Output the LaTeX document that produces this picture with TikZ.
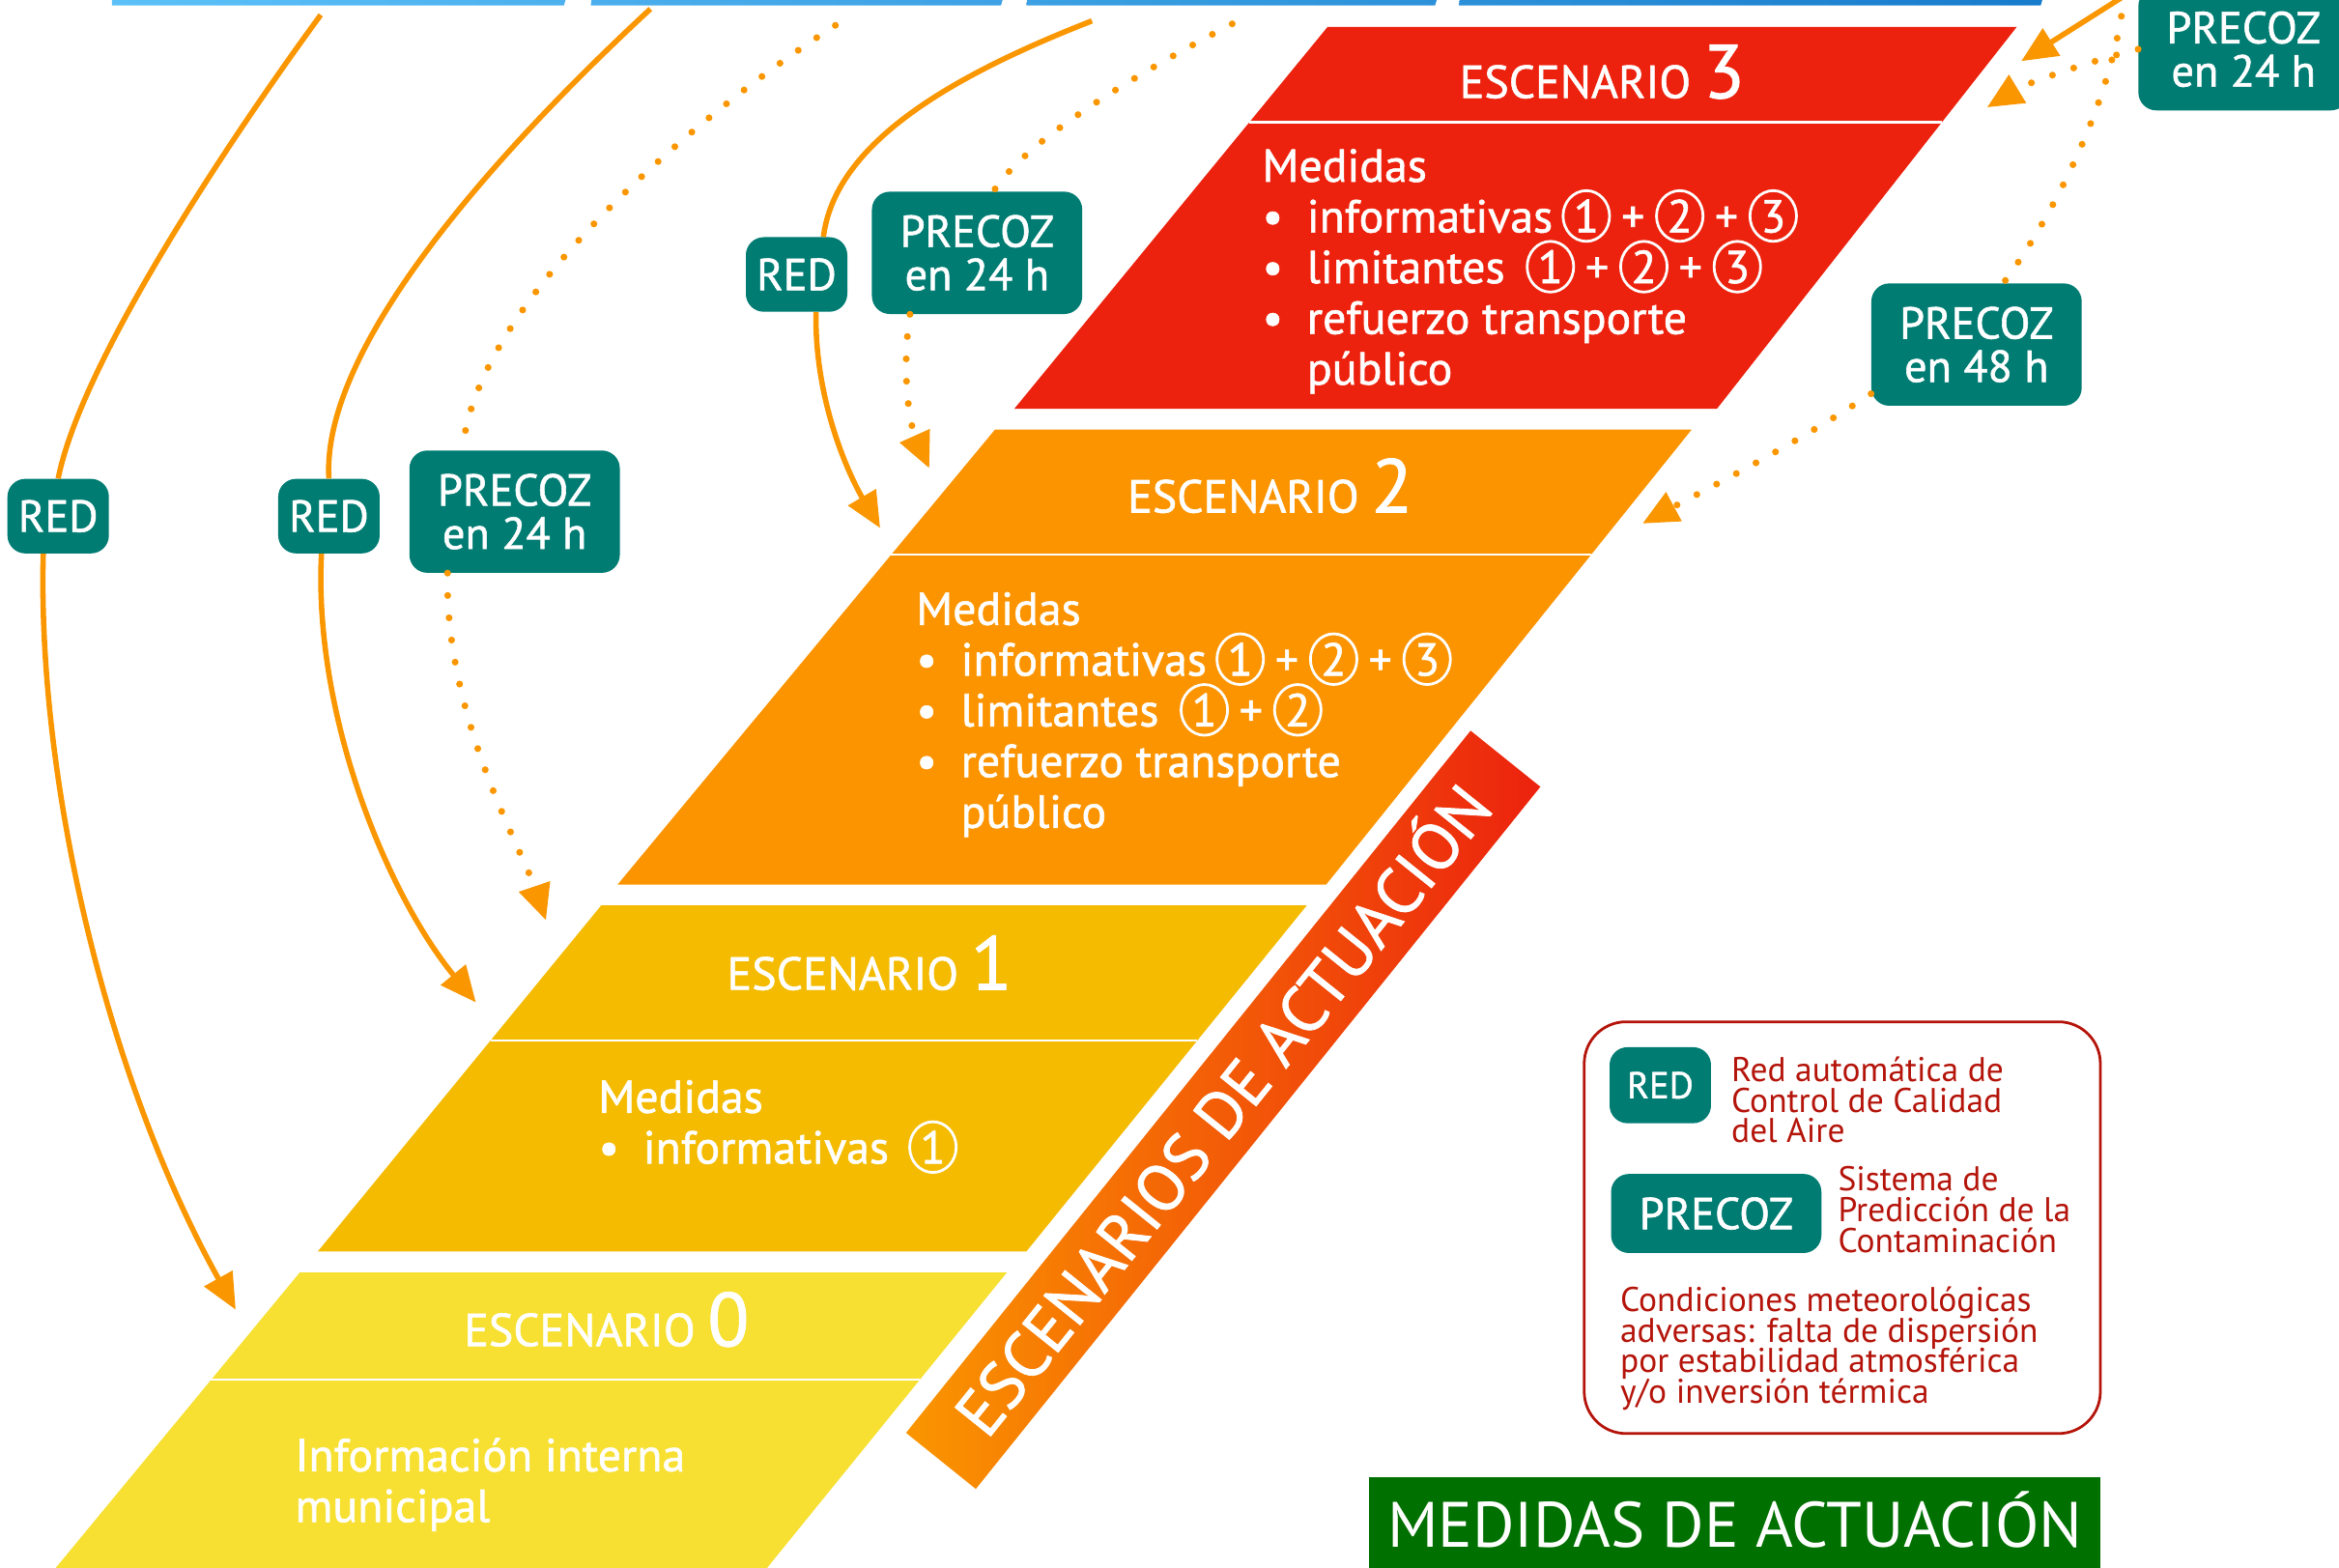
\documentclass[tikz,border=0pt]{standalone}
\usepackage{fontspec}
\setmainfont{PT Sans}
\newfontfamily\medio{PT Sans}[FakeBold=1.2]
\usetikzlibrary{arrows.meta,calc}

\definecolor{rojoIII}{RGB}{236,34,14}
\definecolor{naranjaII}{RGB}{252,148,0}
\definecolor{ambarI}{RGB}{244,187,0}
\definecolor{amarillo}{RGB}{247,224,50}
\definecolor{verdeazul}{RGB}{0,124,115}
\definecolor{flechas}{RGB}{250,150,0}
\definecolor{rojoley}{RGB}{180,20,10}
\definecolor{verdeban}{RGB}{0,112,0}
\definecolor{azulA}{RGB}{92,192,248}
\definecolor{azulB}{RGB}{24,124,204}

\lineskiplimit=-30pt
\newcommand{\cnum}[1]{\rlap{\tikz[baseline=0pt]{\useasboundingbox (0pt,0pt) rectangle (33pt,1pt); \draw[white, line width=1.8pt] (16.5pt,11pt) ellipse (15.6pt and 17pt);}}\makebox[33pt]{#1}}
\newcommand{\mas}{\hspace{7pt}+\hspace{7pt}}
\newcommand{\bul}{\makebox[30pt][l]{\textbullet}}

\begin{document}
\begin{tikzpicture}[x=1pt,y=-1pt]
  \tikzstyle{caja}=[fill=verdeazul, rounded corners=12pt, text=white, align=center, inner sep=0pt, font=\medio\fontsize{30}{29}\selectfont]
  \tikzstyle{cajared}=[caja, minimum width=68pt, minimum height=50pt]
  \tikzstyle{cajaprecoz}=[caja, minimum width=141pt, minimum height=82pt]
  \tikzstyle{linea}=[draw=flechas, line width=3.6pt]
  \tikzstyle{puntos}=[draw=flechas, line width=4.6pt, line cap=round, dash pattern=on 0pt off 15pt]
  \tikzstyle{punta}=[-{Triangle[length=24pt,width=21pt]}]
  \tikzstyle{titulo}=[text=white, inner sep=0pt, font=\medio\fontsize{31}{31}\selectfont]
  \tikzstyle{texto}=[text=white, inner sep=0pt, align=left, font=\medio\fontsize{31}{34}\selectfont]
  \tikzstyle{leyenda}=[text=rojoley, inner sep=0pt, align=left, font=\fontsize{23}{20.5}\selectfont]

  \useasboundingbox (0,0) rectangle (1568,1051);
  \clip (0,0) rectangle (1568,1051);

  \shade[left color=azulA, right color=azulB!23!azulA] (75,-3) -- (380,-3) -- (378,3.7) -- (75,3.7) -- cycle;
  \shade[left color=azulB!25!azulA, right color=azulB!46!azulA] (397,-3) -- (673,-3) -- (671,3.7) -- (396,3.7) -- cycle;
  \shade[left color=azulB!47!azulA, right color=azulB!69!azulA] (689,-3) -- (964,-3) -- (962,3.7) -- (688,3.7) -- cycle;
  \shade[left color=azulB!70!azulA, right color=azulB] (979,-3) -- (1370,-3) -- (1368,3.7) -- (978,3.7) -- cycle;

  \coordinate (e3a) at (890,18);
  \coordinate (e3b) at (1352,18);
  \coordinate (e3c) at (1151,274);
  \coordinate (e3d) at (680,274);
  \coordinate (e2a) at (667,288);
  \coordinate (e2b) at (1134,288);
  \coordinate (e2c) at (889,593);
  \coordinate (e2d) at (414,593);
  \coordinate (e1a) at (403,607);
  \coordinate (e1b) at (876,607);
  \coordinate (e1c) at (688,839);
  \coordinate (e1d) at (213,839);
  \coordinate (e0a) at (201,853);
  \coordinate (e0b) at (675,853);
  \coordinate (e0c) at (507,1060);
  \coordinate (e0d) at (30,1060);

  \fill[rojoIII] (e3a) -- (e3b) -- (e3c) -- (e3d) -- cycle;
  \fill[naranjaII] (e2a) -- (e2b) -- (e2c) -- (e2d) -- cycle;
  \fill[ambarI] (e1a) -- (e1b) -- (e1c) -- (e1d) -- cycle;
  \fill[amarillo] (e0a) -- (e0b) -- (e0c) -- (e0d) -- cycle;
  \draw[white, line width=1.5pt] ($(e3a)!0.25!(e3d)$) -- ($(e3b)!0.25!(e3c)$);
  \draw[white, line width=1.5pt] ($(e2a)!0.275!(e2d)$) -- ($(e2b)!0.275!(e2c)$);
  \draw[white, line width=1.5pt] ($(e1a)!0.39!(e1d)$) -- ($(e1b)!0.39!(e1c)$);
  \draw[white, line width=1.5pt] ($(e0a)!0.348!(e0d)$) -- ($(e0b)!0.348!(e0c)$);

  \begin{scope}[shift={(820,744)}, rotate=51.2]
    \shade[left color=flechas, right color=rojoIII] (-302,-30) rectangle (302,30);
  \end{scope}
  \node[rotate=51.2, anchor=base, text=white, inner sep=0pt, font=\medio\fontsize{44}{44}\selectfont] (actuacion) at (832,754) {ESCENARIOS DE ACTUACIÓN};

  \node[titulo, anchor=base] (esc3) at (1074,65.7) {ESCENARIO {\fontsize{51}{51}\selectfont 3}};
  \node[texto, anchor=base west] (med3) at (846,257.8) {Medidas\\\bul informativas\hspace{6pt}\cnum{1}\mas\cnum{2}\mas\cnum{3}\\\bul limitantes\hspace{14pt}\cnum{1}\mas\cnum{2}\mas\cnum{3}\\\bul refuerzo transporte\\\hspace*{30pt}público};
  \node[titulo, anchor=base] (esc2) at (851.5,343.6) {ESCENARIO {\fontsize{51}{51}\selectfont 2}};
  \node[texto, anchor=base west] (med2) at (614,554.9) {Medidas\\\bul informativas\hspace{6pt}\cnum{1}\mas\cnum{2}\mas\cnum{3}\\\bul limitantes\hspace{14pt}\cnum{1}\mas\cnum{2}\\\bul refuerzo transporte\\\hspace*{30pt}público};
  \node[titulo, anchor=base] (esc1) at (583,663.5) {ESCENARIO {\fontsize{51}{51}\selectfont 1}};
  \node[texto, anchor=base west] (med1) at (401,780) {Medidas\\\bul informativas\hspace{13pt}\cnum{1}};
  \node[titulo, anchor=base] (esc0) at (406.6,902.4) {ESCENARIO {\fontsize{51}{51}\selectfont 0}};
  \node[texto, anchor=base west] (info0) at (197.7,1020.3) {Información interna\\municipal};

  \node[cajared] (red1) at (39,346) {RED};
  \node[cajared] (red2) at (220.5,346) {RED};
  \node[cajaprecoz] (precoz1) at (345,343) {PRECOZ\\en 24 h};
  \node[cajared] (red3) at (534,184) {RED};
  \node[cajaprecoz] (precoz2) at (655,169.5) {PRECOZ\\en 24 h};
  \node[cajaprecoz] (precoz48) at (1325,231) {PRECOZ\\en 48 h};
  \node[cajaprecoz] (precoz3) at (1504,33) {PRECOZ\\en 24 h};

  \coordinate (t1) at (215,10);
  \coordinate (t2) at (436,6);
  \coordinate (t3) at (560,17);
  \coordinate (t4) at (732,14);
  \coordinate (t5) at (826,16);
  \coordinate (t6) at (1426,-4);
  \coordinate (t7) at (1424,-4);
  \coordinate (e0in) at (158,878);
  \coordinate (e1in) at (319,672);
  \coordinate (e1inb) at (366,617);
  \coordinate (e2in) at (590,354);
  \coordinate (e2inb) at (623,314);
  \coordinate (e2inc) at (1101,351);
  \coordinate (e3in) at (1355,41);
  \coordinate (e3inb) at (1332,72);

  \draw[linea] (t1) .. controls (160,85) and (55,240) .. (red1.north);
  \draw[linea, punta] ([xshift=-10pt]red1.south) .. controls (25,520) and (70,720) .. (e0in);
  \draw[linea] (t2) .. controls (340,95) and (215,230) .. (red2.north);
  \draw[linea, punta] ([xshift=-5pt]red2.south) .. controls (210,480) and (260,600) .. (e1in);
  \draw[puntos] (t3) .. controls (470,75) and (320,200) .. ([xshift=-35pt]precoz1.north);
  \draw[puntos, punta] ([xshift=-45pt]precoz1.south) .. controls (298,480) and (350,570) .. (e1inb);
  \draw[linea] (t4) .. controls (640,50) and (560,95) .. ([xshift=18pt]red3.north);
  \draw[linea, punta] ([xshift=13pt]red3.south) .. controls (546,270) and (570,320) .. (e2in);
  \draw[puntos] (t5) .. controls (780,40) and (690,90) .. ([xshift=11pt]precoz2.north);
  \draw[puntos, punta] ([xshift=-45pt]precoz2.south) .. controls (604,250) and (610,285) .. (e2inb);
  \draw[linea, punta] (t6) -- (e3in);
  \draw[puntos, punta] (precoz3.west) .. controls (1405,40) and (1360,55) .. (e3inb);
  \draw[puntos] (t7) .. controls (1418,60) and (1380,140) .. ([xshift=18pt]precoz48.north);
  \draw[puntos, punta] (precoz48.205) .. controls (1200,300) and (1140,330) .. (e2inc);

  \node[draw=rojoley, line width=1.8pt, rounded corners=28pt, minimum width=346pt, minimum height=276pt] (leyenda) at (1235,823) {};
  \node[caja, minimum width=68pt, minimum height=51pt, font=\medio\fontsize{25}{25}\selectfont] (leyred) at (1113,727.5) {RED};
  \node[caja, minimum width=141pt, minimum height=53pt] (leyprecoz) at (1150.5,813.5) {PRECOZ};
  \node[leyenda, anchor=base west] (leytxt1) at (1160.5,766) {Red automática de\\Control de Calidad\\del Aire};
  \node[leyenda, anchor=base west] (leytxt2) at (1232,839.5) {Sistema de\\Predicción de la\\Contaminación};
  \node[leyenda, anchor=base west] (leytxt3) at (1086,940.8) {Condiciones meteorológicas\\adversas: falta de dispersión\\por estabilidad atmosférica\\y/o inversión térmica};

  \fill[verdeban] (918,990) rectangle (1408,1060);
  \node[anchor=base, text=white, inner sep=0pt, font=\fontsize{43}{43}\selectfont] (medidas) at (1163,1037) {MEDIDAS DE ACTUACIÓN};
\end{tikzpicture}
\end{document}
